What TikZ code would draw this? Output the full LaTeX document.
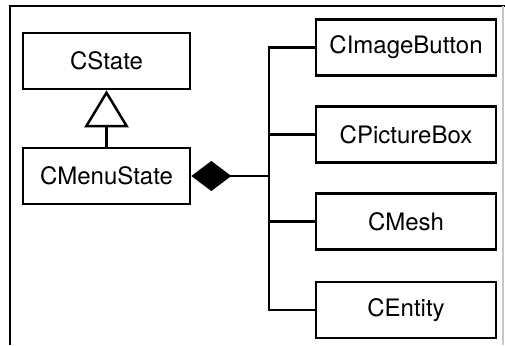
\documentclass[tikz,border=0pt]{standalone}
\usepackage{fontspec}
\setmainfont{TeX Gyre Heros}
\usetikzlibrary{arrows.meta}

\tikzset{
  classbox/.style={draw,line width=2.5pt,minimum height=56pt,inner sep=0pt,
    font=\fontsize{24}{28}\selectfont},
  link/.style={line width=2.5pt,line join=miter}
}

\begin{document}
\begin{tikzpicture}[x=1pt,y=-1pt]

\useasboundingbox (0,0) rectangle (505,345);

%====================================================
% Frame
%====================================================
\draw[line width=1.8pt] (10,345)--(10,6)--(505,6);
\draw[gray!45,line width=1.2pt] (503,6)--(503,345);

%====================================================
% Left classes
%====================================================
\node[classbox,minimum width=167pt] (state) at (106.5,61) {CState};
\node[classbox,minimum width=167pt] (menu) at (106.5,176) {CMenuState};

% Inheritance
\draw[link,-{Triangle[open,length=37pt,width=44pt]}] (menu.north)--(state.south);

%====================================================
% Right classes
%====================================================
\node[classbox,minimum width=180pt] (imgbtn) at (406,47.5) {CImageButton};
\node[classbox,minimum width=180pt] (picbox) at (406,134.5) {CPictureBox};
\node[classbox,minimum width=180pt] (mesh) at (406,221.5) {CMesh};
\node[classbox,minimum width=180pt] (entity) at (406,310) {CEntity};

% Composition
\coordinate (bus) at (269,176);
\draw[link,{Diamond[length=40pt,width=30pt]}-] (menu.east)--(bus);
\foreach \n in {imgbtn,picbox,mesh,entity}
  \draw[link] (bus) |- (\n.west);

\end{tikzpicture}
\end{document}
